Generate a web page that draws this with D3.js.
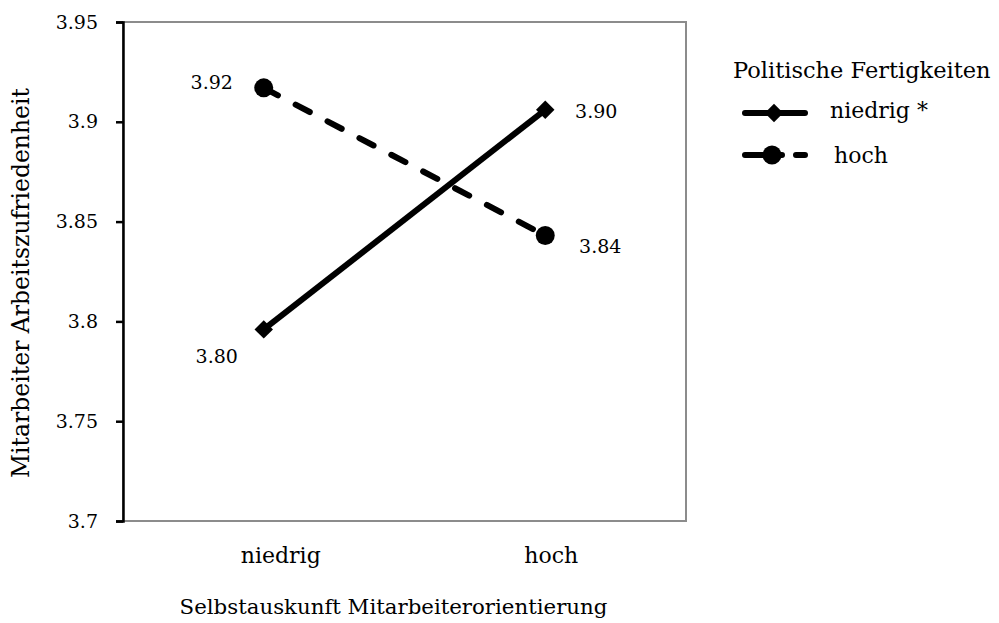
<!DOCTYPE html>
<html><head><meta charset="utf-8">
<script src="https://cdn.jsdelivr.net/npm/d3@7"></script>
<style>body{margin:0;background:#fff}</style>
</head><body><svg id="c" width="999" height="623"></svg>
<script>
const categories = ["niedrig", "hoch"];
const seriesNames = ["niedrig *", "hoch"];
const valuesNiedrig = [3.796, 3.906];
const valuesHoch = [3.917, 3.843];
const labelsNiedrig = ["3.80", "3.90"];
const labelsHoch = ["3.92", "3.84"];
const yTicks = [3.7, 3.75, 3.8, 3.85, 3.9, 3.95];
const yTickLabels = ["3.7", "3.75", "3.8", "3.85", "3.9", "3.95"];

const FONT = "'DejaVu Serif', serif";
const fsN = 19;   // numbers
const fsW = 22;   // words
const svg = d3.select("#c").attr("font-family", FONT).attr("font-size", fsN);
const m = {l:123, r:686, t:22, b:521};
const x = d3.scaleBand().domain(categories).range([m.l, m.r]);
const y = d3.scaleLinear().domain([3.7, 3.95]).range([m.b, m.t]);

function txt(sel, fs){ return sel.attr("font-family", FONT).attr("font-size", fs || fsN).attr("fill", "#000"); }

// frame
svg.append("rect").attr("x", m.l).attr("y", m.t).attr("width", m.r-m.l).attr("height", m.b-m.t)
  .attr("fill", "none").attr("stroke", "#8c8c8c").attr("stroke-width", 2);
// y axis
const ya = svg.append("g").attr("transform", `translate(${m.l},0)`)
  .call(d3.axisLeft(y).tickValues(yTicks).tickFormat((d,i)=>yTickLabels[i]).tickSize(7).tickPadding(18));
ya.attr("font-family", FONT).attr("font-size", fsN);
ya.select(".domain").attr("stroke", "#000").attr("stroke-width", 2.5);
ya.selectAll(".tick line").attr("stroke", "#000").attr("stroke-width", 2.5);
txt(ya.selectAll(".tick text"));

// x labels
const xLabelShift = [17, 6];
const xa = svg.append("g").attr("transform", `translate(0,${m.b})`)
  .call(d3.axisBottom(x).tickSize(0).tickPadding(26));
xa.attr("font-family", FONT).attr("font-size", fsW);
xa.select(".domain").remove();
txt(xa.selectAll(".tick text"), fsW).attr("dx", (d,i)=>xLabelShift[i]);

// axis titles
txt(svg.append("text"), 21.3).attr("x", (m.l+m.r)/2 - 11).attr("y", 614).attr("text-anchor", "middle")
  .text("Selbstauskunft Mitarbeiterorientierung");
txt(svg.append("text"), 23.5).attr("transform", `translate(29,283) rotate(-90)`).attr("text-anchor", "middle")
  .text("Mitarbeiter Arbeitszufriedenheit");

const cx = c => x(c) + x.bandwidth()/2;
const line = d3.line().x((d,i)=>cx(categories[i])).y(d=>y(d));

// dashed series (hoch)
svg.append("path").datum(valuesHoch).attr("d", line).attr("fill","none").attr("stroke","#000")
  .attr("stroke-width", 6).attr("stroke-dasharray", "16,20").attr("stroke-linecap","round");
// solid series (niedrig)
svg.append("path").datum(valuesNiedrig).attr("d", line).attr("fill","none").attr("stroke","#000")
  .attr("stroke-width", 6);

const diamond = d3.symbol().type(d3.symbolSquare).size(170);
svg.selectAll(".dm").data(valuesNiedrig).join("path")
  .attr("d", diamond).attr("transform", (d,i)=>`translate(${cx(categories[i])},${y(d)}) rotate(45)`).attr("fill","#000");
svg.selectAll(".ci").data(valuesHoch).join("circle")
  .attr("cx", (d,i)=>cx(categories[i])).attr("cy", d=>y(d)).attr("r", 9.5).attr("fill","#000");

// value labels
const lblOff = {niedrig:[[-47,27],[51,1]], hoch:[[-52,-6],[55,10]]};
txt(svg.selectAll(".ln").data(valuesNiedrig).join("text"))
  .attr("x",(d,i)=>cx(categories[i])+lblOff.niedrig[i][0]).attr("y",(d,i)=>y(d)+lblOff.niedrig[i][1]+7)
  .attr("text-anchor","middle").text((d,i)=>labelsNiedrig[i]);
txt(svg.selectAll(".lh").data(valuesHoch).join("text"))
  .attr("x",(d,i)=>cx(categories[i])+lblOff.hoch[i][0]).attr("y",(d,i)=>y(d)+lblOff.hoch[i][1]+7)
  .attr("text-anchor","middle").text((d,i)=>labelsHoch[i]);

// legend
const lg = svg.append("g");
txt(lg.append("text"), 22.5).attr("x", 733).attr("y", 78).text("Politische Fertigkeiten");
const ly = [113, 155];
lg.append("line").attr("x1",745).attr("x2",805).attr("y1",ly[0]).attr("y2",ly[0]).attr("stroke","#000").attr("stroke-width",6).attr("stroke-linecap","round");
lg.append("path").attr("d", diamond).attr("transform",`translate(774,${ly[0]}) rotate(45)`).attr("fill","#000");
lg.append("line").attr("x1",745).attr("x2",805).attr("y1",ly[1]).attr("y2",ly[1]).attr("stroke","#000").attr("stroke-width",6).attr("stroke-linecap","round").attr("stroke-dasharray","37,14");
lg.append("circle").attr("cx",772).attr("cy",ly[1]).attr("r",9.5).attr("fill","#000");
txt(lg.append("text"), fsW).attr("x",830).attr("y",118).text(seriesNames[0]);
txt(lg.append("text"), fsW).attr("x",834).attr("y",163).text(seriesNames[1]);
</script></body></html>
